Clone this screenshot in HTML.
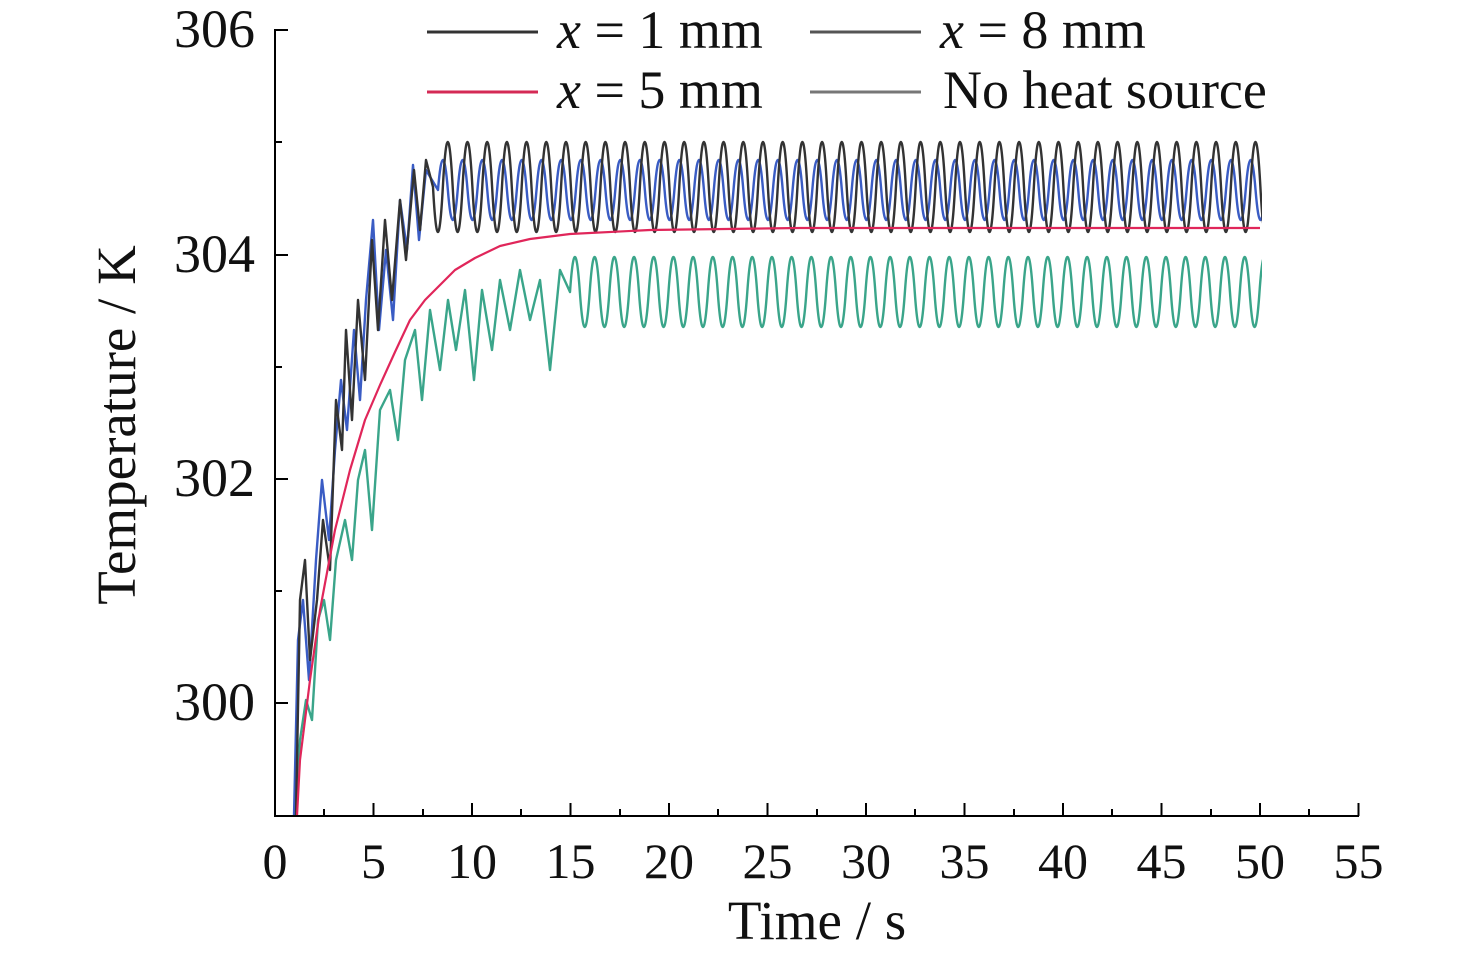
<!DOCTYPE html>
<html><head><meta charset="utf-8"><style>
html,body{margin:0;padding:0;background:#fff;}
svg{display:block;font-family:"Liberation Serif",serif;}
</style></head><body>
<svg width="1476" height="956" viewBox="0 0 1476 956" xmlns="http://www.w3.org/2000/svg">
<defs><clipPath id="c"><rect x="276" y="0" width="986" height="816"/></clipPath></defs>
<rect width="1476" height="956" fill="#fff"/>
<g fill="none" stroke-linejoin="round" clip-path="url(#c)">
<path stroke="#3aa58a" stroke-width="2.4" d="M296,816L300,740L306,700L312,720L318,620L324,600L330,640L336,560L345,520L352,560L358,480L365,450L372,530L380,410L390,390L398,440L405,360L415,330L422,400L430,310L440,370L448,300L456,350L465,290L474,380L482,290L492,350L500,280L510,330L520,270L530,320L540,280L550,370L560,270L570,292q4.925,-70 9.85,0t9.85,0t9.85,0t9.85,0t9.85,0t9.85,0t9.85,0t9.85,0t9.85,0t9.85,0t9.85,0t9.85,0t9.85,0t9.85,0t9.85,0t9.85,0t9.85,0t9.85,0t9.85,0t9.85,0t9.85,0t9.85,0t9.85,0t9.85,0t9.85,0t9.85,0t9.85,0t9.85,0t9.85,0t9.85,0t9.85,0t9.85,0t9.85,0t9.85,0t9.85,0t9.85,0t9.85,0t9.85,0t9.85,0t9.85,0t9.85,0t9.85,0t9.85,0t9.85,0t9.85,0t9.85,0t9.85,0t9.85,0t9.85,0t9.85,0t9.85,0t9.85,0t9.85,0t9.85,0t9.85,0t9.85,0t9.85,0t9.85,0t9.85,0t9.85,0t9.85,0t9.85,0t9.85,0t9.85,0t9.85,0t9.85,0t9.85,0t9.85,0t9.85,0t9.85,0t9.85,0t9.85,0"/>
<path stroke="#3a5cc4" stroke-width="2.4" d="M294,816L298,640L303,600L309,680L316,560L322,480L329,540L335,450L341,380L347,430L354,330L360,400L366,300L373,220L379,330L386,250L393,320L400,200L407,250L413,165L419,240L426,170L438,190q4.925,-60 9.85,0t9.85,0t9.85,0t9.85,0t9.85,0t9.85,0t9.85,0t9.85,0t9.85,0t9.85,0t9.85,0t9.85,0t9.85,0t9.85,0t9.85,0t9.85,0t9.85,0t9.85,0t9.85,0t9.85,0t9.85,0t9.85,0t9.85,0t9.85,0t9.85,0t9.85,0t9.85,0t9.85,0t9.85,0t9.85,0t9.85,0t9.85,0t9.85,0t9.85,0t9.85,0t9.85,0t9.85,0t9.85,0t9.85,0t9.85,0t9.85,0t9.85,0t9.85,0t9.85,0t9.85,0t9.85,0t9.85,0t9.85,0t9.85,0t9.85,0t9.85,0t9.85,0t9.85,0t9.85,0t9.85,0t9.85,0t9.85,0t9.85,0t9.85,0t9.85,0t9.85,0t9.85,0t9.85,0t9.85,0t9.85,0t9.85,0t9.85,0t9.85,0t9.85,0t9.85,0t9.85,0t9.85,0t9.85,0t9.85,0t9.85,0t9.85,0t9.85,0t9.85,0t9.85,0t9.85,0t9.85,0t9.85,0t9.85,0t9.85,0t9.85,0"/>
<path stroke="#333" stroke-width="2.4" d="M296,816L300,600L305,560L310,660L317,600L323,520L330,570L336,400L342,450L346,330L352,420L358,300L365,380L372,240L378,330L385,220L392,300L400,200L406,260L414,170L420,230L426,160L433,187q4.925,90 9.85,0t9.85,0t9.85,0t9.85,0t9.85,0t9.85,0t9.85,0t9.85,0t9.85,0t9.85,0t9.85,0t9.85,0t9.85,0t9.85,0t9.85,0t9.85,0t9.85,0t9.85,0t9.85,0t9.85,0t9.85,0t9.85,0t9.85,0t9.85,0t9.85,0t9.85,0t9.85,0t9.85,0t9.85,0t9.85,0t9.85,0t9.85,0t9.85,0t9.85,0t9.85,0t9.85,0t9.85,0t9.85,0t9.85,0t9.85,0t9.85,0t9.85,0t9.85,0t9.85,0t9.85,0t9.85,0t9.85,0t9.85,0t9.85,0t9.85,0t9.85,0t9.85,0t9.85,0t9.85,0t9.85,0t9.85,0t9.85,0t9.85,0t9.85,0t9.85,0t9.85,0t9.85,0t9.85,0t9.85,0t9.85,0t9.85,0t9.85,0t9.85,0t9.85,0t9.85,0t9.85,0t9.85,0t9.85,0t9.85,0t9.85,0t9.85,0t9.85,0t9.85,0t9.85,0t9.85,0t9.85,0t9.85,0t9.85,0t9.85,0t9.85,0"/>
<path stroke="#e0265a" stroke-width="2.2" d="M297,816L300,760L310,680L320,610L335,530L350,470L365,420L380,385L395,352L410,320L425,300L440,285L455,270L475,258L500,246L530,239L570,234L650,230L800,228L1260,228"/>
</g>
<g stroke="#000" stroke-width="2" fill="none">
<line x1="275" y1="29" x2="275" y2="817"/>
<line x1="274" y1="816" x2="1359" y2="816"/>
<path d="M275.0,816v-13M373.5,816v-13M472,816v-13M570.5,816v-13M669,816v-13M767.5,816v-13M866,816v-13M964.5,816v-13M1063,816v-13M1161.5,816v-13M1260,816v-13M1358.5,816v-13M324,816v-7M423,816v-7M521,816v-7M620,816v-7M718,816v-7M817,816v-7M915,816v-7M1014,816v-7M1112,816v-7M1211,816v-7M1309,816v-7M275,30h13M275,255h13M275,479h13M275,703h13M275,142h7M275,367h7M275,591h7"/>
</g>
<g font-size="54" fill="#111" text-anchor="end">
<text x="255" y="47">306</text>
<text x="255" y="272">304</text>
<text x="255" y="496">302</text>
<text x="255" y="720">300</text>
</g>
<g font-size="50" fill="#111" text-anchor="middle">
<text x="275" y="878">0</text><text x="373.5" y="878">5</text><text x="472" y="878">10</text><text x="570.5" y="878">15</text><text x="669" y="878">20</text><text x="767.5" y="878">25</text><text x="866" y="878">30</text><text x="964.5" y="878">35</text><text x="1063" y="878">40</text><text x="1161.5" y="878">45</text><text x="1260" y="878">50</text><text x="1358.5" y="878">55</text>
</g>
<text x="817" y="939" font-size="55" text-anchor="middle" fill="#111">Time / s</text>
<text transform="translate(135,425) rotate(-90)" font-size="55" text-anchor="middle" fill="#111">Temperature / K</text>
<g stroke-width="3">
<line x1="427" y1="32" x2="538" y2="32" stroke="#333"/>
<line x1="810" y1="32" x2="921" y2="32" stroke="#555"/>
<line x1="427" y1="92" x2="538" y2="92" stroke="#d42a55"/>
<line x1="810" y1="92" x2="921" y2="92" stroke="#777"/>
</g>
<g font-size="54" fill="#111">
<text x="557" y="48"><tspan font-style="italic">x</tspan> = 1 mm</text>
<text x="940" y="48"><tspan font-style="italic">x</tspan> = 8 mm</text>
<text x="557" y="108"><tspan font-style="italic">x</tspan> = 5 mm</text>
<text x="943" y="108">No heat source</text>
</g>
</svg>
</body></html>
